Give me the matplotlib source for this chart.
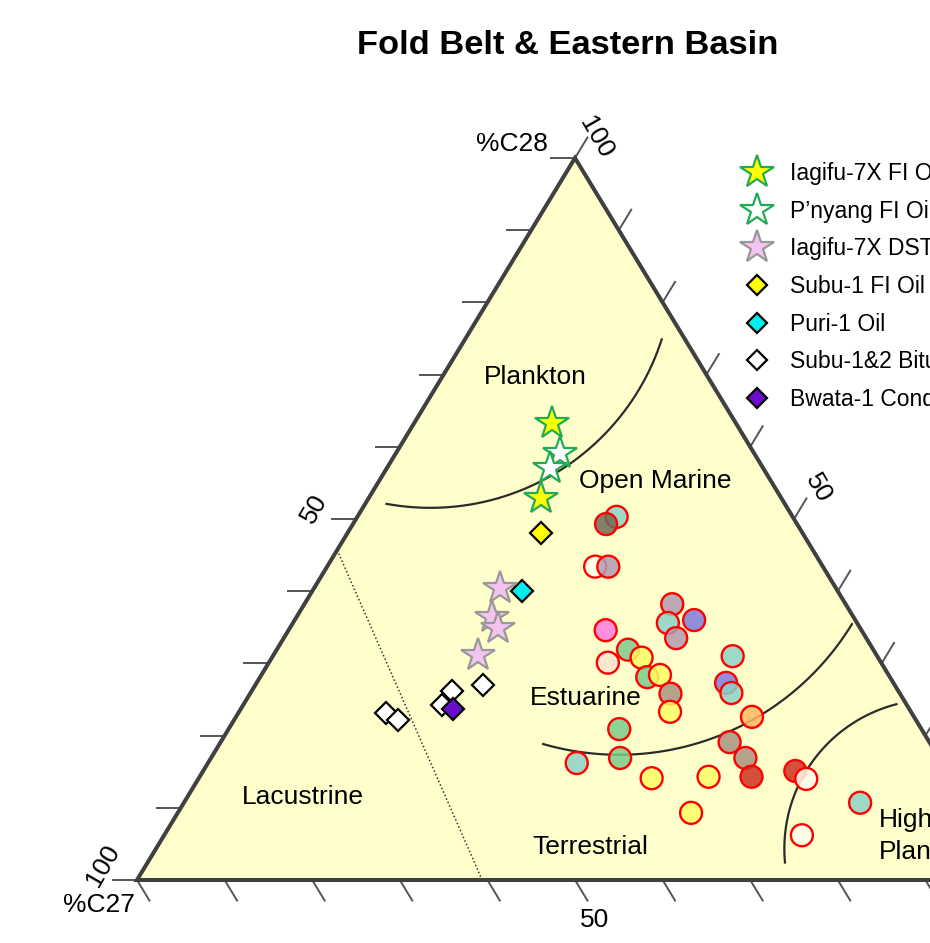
import numpy as np
import matplotlib
matplotlib.use('Agg')
import matplotlib.pyplot as plt
from matplotlib.lines import Line2D
from matplotlib.patches import Polygon
from matplotlib.colors import to_rgba

plt.rcParams['font.family'] = ['Liberation Sans', 'DejaVu Sans']

# ---------------- data: sterane distributions (%C27, %C28, %C29) ----------------
iagifu_fi_c27 = [21.0, 27.4]
iagifu_fi_c28 = [63.3, 52.9]
iagifu_fi_c29 = [15.7, 19.7]

pnyang_c27 = [22.2, 24.3]
pnyang_c28 = [59.1, 57.1]
pnyang_c29 = [18.7, 18.6]

iagifu_dst_c27 = [38.4, 41.3, 41.3, 45.5]
iagifu_dst_c28 = [40.4, 36.4, 34.9, 31.2]
iagifu_dst_c29 = [21.2, 22.3, 23.8, 23.3]

subu1_c27 = [29.8]
subu1_c28 = [48.1]
subu1_c29 = [22.1]

puri1_c27 = [36.1]
puri1_c28 = [40.0]
puri1_c29 = [23.9]

subu_bit_c27 = [47.0, 50.9, 53.1, 60.0, 59.1]
subu_bit_c28 = [27.0, 26.2, 24.2, 23.1, 22.2]
subu_bit_c29 = [26.0, 22.9, 22.7, 16.9, 18.7]

bwata_c27 = [52.1]
bwata_c28 = [23.7]
bwata_c29 = [24.2]

# background samples (red-rimmed circles)
bg_c27 = [20.1, 21.8, 26.0, 24.5, 19.8, 21.6, 18.4, 21.7, 29.2, 28.0, 27.0,
          31.2, 27.7, 26.1, 26.2, 27.5, 16.5, 19.1, 19.2, 18.5, 34.5, 22.8,
          36.4, 41.7, 22.1, 22.7, 34.2, 27.6, 17.3, 16.6, 32.1, 21.0, 12.1]
bg_c28 = [50.3, 49.3, 43.4, 43.4, 38.2, 35.6, 36.0, 33.5, 34.6, 31.9, 30.8,
          30.1, 28.1, 28.4, 25.8, 23.3, 31.0, 27.3, 25.9, 22.6, 20.9, 19.1,
          16.9, 16.2, 16.9, 14.3, 14.1, 14.3, 15.1, 14.0, 9.3, 6.2, 10.7]
bg_c29 = [29.6, 28.9, 30.6, 32.1, 42.0, 42.8, 45.6, 44.8, 36.2, 40.1, 42.2,
          38.7, 44.2, 45.5, 48.0, 49.2, 52.5, 53.6, 54.9, 58.9, 44.6, 58.1,
          46.7, 42.1, 61.0, 63.0, 51.7, 58.1, 67.6, 69.4, 58.6, 72.8, 77.2]
bg_colors = ['#8DD3C7', '#6E6B55', '#FFFFEE', '#B29AAF', '#B29AAF', '#8DD3C7',
             '#7B7BE0', '#B29AAF', '#FF7ADF', '#7ACC8A', '#FFFF66', '#FBE3CF',
             '#7ACC8A', '#FFFF66', '#A89282', '#FFFF66', '#8DD3C7', '#7B7BE0',
             '#8DD3C7', '#FFB963', '#7ACC8A', '#A89282', '#7ACC8A', '#8DD3C7',
             '#A89282', '#CC3322', '#FFFF66', '#FFFF66', '#CC3322', '#FFFFEE',
             '#FFFF66', '#FFFFEE', '#8DD3C7']

# environment boundary curves (%C28, %C29; %C27 is the remainder)
plankton_c28 = [52.2, 51.5, 52.2, 54.4, 58.6, 64.7, 70.2, 74.8]
plankton_c29 = [2.4, 7.7, 13.1, 17.7, 21.3, 22.8, 23.1, 22.7]
estuar_c28 = [18.6, 17.5, 18.4, 20.4, 24.5, 29.5, 35.6]
estuar_c29 = [37.0, 43.8, 50.8, 57.5, 61.1, 63.6, 63.6]
higher_c28 = [24.1, 23.3, 20.4, 15.7, 10.1, 2.4]
higher_c29 = [74.7, 72.0, 69.7, 69.0, 69.8, 72.6]
lacus_c28 = [45.7, 0.0]
lacus_c29 = [0.0, 39.4]

legend_labels = ['Iagifu-7X FI Oil', 'P\u2019nyang FI Oil', 'Iagifu-7X DST Oil',
                 'Subu-1 FI Oil', 'Puri-1 Oil', 'Subu-1&2 Bitumen',
                 'Bwata-1 Condensate']
tick_values = [0, 10, 20, 30, 40, 50, 60, 70, 80, 90, 100]

# ---------------- geometry of the ternary frame (pixels) ----------------
TOP = np.array([575.0, 158.0])
BL = np.array([137.0, 880.0])
BR = np.array([1013.0, 880.0])


def tern(c27, c28, c29):
    c27 = np.asarray(c27, float)
    c28 = np.asarray(c28, float)
    c29 = np.asarray(c29, float)
    s = c27 + c28 + c29
    x = (c27 * BL[0] + c28 * TOP[0] + c29 * BR[0]) / s
    y = (c27 * BL[1] + c28 * TOP[1] + c29 * BR[1]) / s
    return x, y


def tern2(c28, c29):
    c28 = np.asarray(c28, float)
    c29 = np.asarray(c29, float)
    return tern(100 - c28 - c29, c28, c29)


def arc_through(px, py, n=200):
    """Least-squares circle through the points, drawn from first to last point."""
    px = np.asarray(px); py = np.asarray(py)
    A = np.column_stack([2 * px, 2 * py, np.ones_like(px)])
    b = px ** 2 + py ** 2
    (xc, yc, c), *_ = np.linalg.lstsq(A, b, rcond=None)
    r = np.sqrt(c + xc ** 2 + yc ** 2)
    ang = np.unwrap(np.arctan2(py - yc, px - xc))
    t = np.linspace(ang[0], ang[-1], n)
    return xc + r * np.cos(t), yc + r * np.sin(t)


fig = plt.figure(figsize=(9.3, 9.43), dpi=100)
ax = fig.add_axes([0, 0, 1, 1])
ax.set_xlim(0, 930)
ax.set_ylim(943, 0)
ax.axis('off')

# triangle
tri = Polygon([TOP, BL, BR], closed=True, facecolor='#FFFFCC',
              edgecolor='#404040', linewidth=2.9, joinstyle='miter', zorder=1)
ax.add_patch(tri)

# ticks
tick_kw = dict(color='#555555', linewidth=1.4, zorder=0.5, solid_capstyle='butt')
dl = 25.0
d_up = (TOP - BL) / np.linalg.norm(TOP - BL) * dl
d_dn = (BR - TOP) / np.linalg.norm(BR - TOP) * dl
for v in tick_values:
    x, y = tern(100 - v, v, 0)
    ax.plot([x, x - dl], [y, y], **tick_kw)
    x, y = tern(0, v, 100 - v)
    ax.plot([x, x + d_up[0]], [y, y + d_up[1]], **tick_kw)
    x, y = tern(100 - v, 0, v)
    ax.plot([x, x + d_dn[0]], [y, y + d_dn[1]], **tick_kw)

# boundary curves
for c28s, c29s in [(plankton_c28, plankton_c29), (estuar_c28, estuar_c29),
                   (higher_c28, higher_c29)]:
    cx, cy = arc_through(*tern2(c28s, c29s))
    ax.plot(cx, cy, color='#2b2b2b', lw=1.6, zorder=2)
cx, cy = tern2(lacus_c28, lacus_c29)
ax.plot(cx, cy, color='#333333', lw=1.1, ls=(0, (1, 1.5)), zorder=2)

# region labels
rfs = 19
ax.text(535, 377, 'Plankton', fontsize=rfs, ha='center', va='center', zorder=3)
ax.text(655, 481, 'Open Marine', fontsize=rfs, ha='center', va='center', zorder=3)
ax.text(586, 698, 'Estuarine', fontsize=rfs, ha='center', va='center', zorder=3)
ax.text(303, 797, 'Lacustrine', fontsize=rfs, ha='center', va='center', zorder=3)
ax.text(590, 847, 'Terrestrial', fontsize=rfs, ha='center', va='center', zorder=3)
ax.text(879, 820, 'Higher', fontsize=rfs, ha='left', va='center', zorder=3)
ax.text(879, 852, 'Plants', fontsize=rfs, ha='left', va='center', zorder=3)

# axis labels
afs = 19
ax.text(548, 144, '%C28', fontsize=afs, ha='right', va='center')
ax.text(596, 137, '100', fontsize=afs, ha='center', va='center', rotation=-60)
ax.text(314, 509, '50', fontsize=afs, ha='center', va='center', rotation=60)
ax.text(818, 488, '50', fontsize=afs, ha='center', va='center', rotation=-60)
ax.text(103, 866, '100', fontsize=afs, ha='center', va='center', rotation=60)
ax.text(99, 905, '%C27', fontsize=afs, ha='center', va='center')
ax.text(595, 920, '50', fontsize=afs, ha='center', va='center')

# title
ax.text(568, 46, 'Fold Belt & Eastern Basin', fontsize=24.8, fontweight='bold',
        ha='center', va='center')

# data
x, y = tern(bg_c27, bg_c28, bg_c29)
fc = [to_rgba(c, 0.85) for c in bg_colors]
ax.scatter(x, y, s=250, facecolors=fc, edgecolors='red', linewidths=1.7, zorder=4)

star_ms = 25
x, y = tern(iagifu_fi_c27, iagifu_fi_c28, iagifu_fi_c29)
ax.plot(x, y, ls='none', marker='*', ms=star_ms, mfc='#FFFF00', mec='#22AA55', mew=1.6, zorder=6)
x, y = tern(pnyang_c27, pnyang_c28, pnyang_c29)
ax.plot(x, y, ls='none', marker='*', ms=star_ms, mfc='white', mec='#22AA55', mew=1.6, zorder=6)
x, y = tern(iagifu_dst_c27, iagifu_dst_c28, iagifu_dst_c29)
ax.plot(x, y, ls='none', marker='*', ms=star_ms, mfc='#F4C4F0', mec='#999999', mew=1.6, zorder=6)

dia_ms = 11
dia_kw = dict(ls='none', marker='D', ms=dia_ms, mec='black', mew=1.6, zorder=5)
x, y = tern(subu1_c27, subu1_c28, subu1_c29)
ax.plot(x, y, mfc='#FFFF00', **dia_kw)
x, y = tern(puri1_c27, puri1_c28, puri1_c29)
ax.plot(x, y, mfc='#00EEEE', **dia_kw)
x, y = tern(subu_bit_c27, subu_bit_c28, subu_bit_c29)
ax.plot(x, y, mfc='white', **dia_kw)
x, y = tern(bwata_c27, bwata_c28, bwata_c29)
ax.plot(x, y, mfc='#6A0DCC', **dia_kw)

# legend
handles = [
    Line2D([], [], ls='none', marker='*', ms=star_ms, mfc='#FFFF00', mec='#22AA55', mew=1.6),
    Line2D([], [], ls='none', marker='*', ms=star_ms, mfc='white', mec='#22AA55', mew=1.6),
    Line2D([], [], ls='none', marker='*', ms=star_ms, mfc='#F4C4F0', mec='#999999', mew=1.6),
    Line2D([], [], mfc='#FFFF00', **dict(dia_kw, ms=10)),
    Line2D([], [], mfc='#00EEEE', **dict(dia_kw, ms=10)),
    Line2D([], [], mfc='white', **dict(dia_kw, ms=10)),
    Line2D([], [], mfc='#6A0DCC', **dict(dia_kw, ms=10)),
]
lfs = 16.5
leg = ax.legend(handles, legend_labels, loc='upper left',
                bbox_to_anchor=(745.5 / 930, 1 - 162 / 943), bbox_transform=fig.transFigure,
                frameon=False, fontsize=lfs, handlelength=1.0, handletextpad=0.94,
                labelspacing=0.64, borderpad=0, borderaxespad=0)

fig.savefig('out.png', dpi=100)
